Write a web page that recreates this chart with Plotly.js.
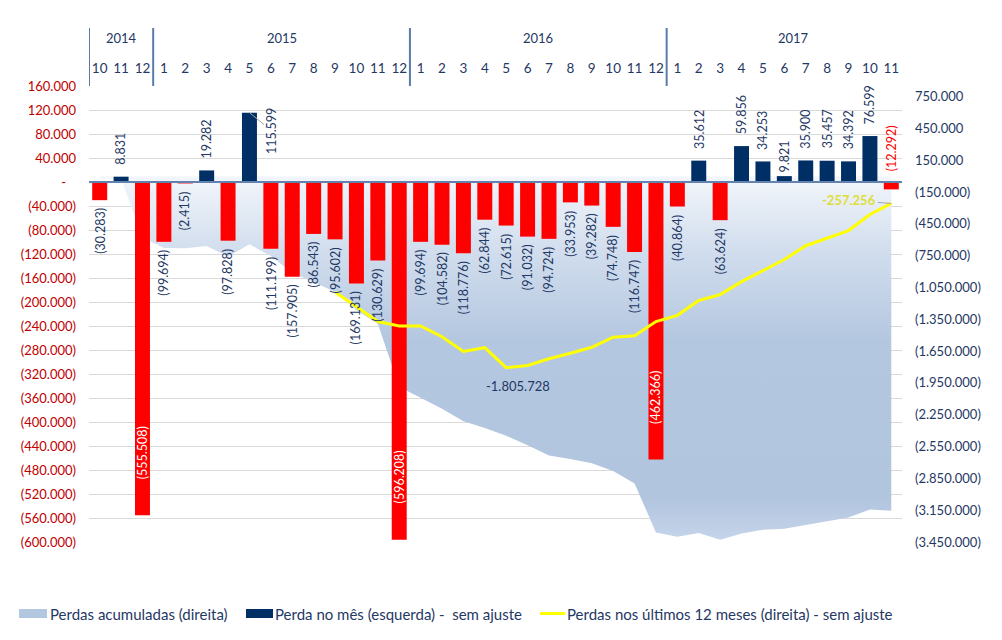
<!DOCTYPE html>
<html>
<head>
<meta charset="utf-8">
<script src="https://cdn.plot.ly/plotly-3.0.1.min.js"></script>
<style>
  html, body { margin: 0; padding: 0; background: #ffffff; }
  #chart { width: 1002px; height: 640px; }
</style>
</head>
<body>
<div id="chart"></div>
<script>
// ---------------- DATA ----------------
const monthLabels = ['10','11','12',
  '1','2','3','4','5','6','7','8','9','10','11','12',
  '1','2','3','4','5','6','7','8','9','10','11','12',
  '1','2','3','4','5','6','7','8','9','10','11'];
const yearLabels = ['2014', '2015', '2016', '2017'];

// Perda no mês (esquerda) - sem ajuste
const monthlyLoss = [-30283, 8831, -555508,
  -99694, -2415, 19282, -97828, 115599, -111199, -157905, -86543, -95602, -169131, -130629, -596208,
  -99694, -104582, -118776, -62844, -72615, -91032, -94724, -33953, -39282, -74748, -116747, -462366,
  -40864, 35612, -63624, 59856, 34253, 9821, 35900, 35457, 34392, 76599, -12292];

// Perdas acumuladas (direita)
const cumulativeLoss = [-30283, -21452, -576960,
  -676654, -679069, -659787, -757615, -642016, -753215, -911120, -997663, -1093265, -1262396, -1393025, -1989233,
  -2088927, -2193509, -2312285, -2375129, -2447744, -2538776, -2633500, -2667453, -2706735, -2781483, -2898230, -3360596,
  -3401460, -3365848, -3429472, -3369616, -3335363, -3325542, -3289642, -3254185, -3219793, -3143194, -3155486];

// Perdas nos últimos 12 meses (direita) - sem ajuste
const rolling12Loss = [null, null, null,
  null, null, null, null, null, null, null, null, -1093265, -1232113, -1371573, -1412273,
  -1412273, -1514440, -1652498, -1617514, -1805728, -1785561, -1722380, -1669790, -1613470, -1519087, -1505205, -1371363,
  -1312533, -1172339, -1117187, -994487, -887619, -786766, -656142, -586732, -513058, -361711, -257256];

const seriesNames = ['Perdas acumuladas (direita)',
  'Perda no mês (esquerda) -  sem ajuste',
  'Perdas nos últimos 12 meses (direita) - sem ajuste'];

const leftTicks = [160000, 120000, 80000, 40000, 0, -40000, -80000, -120000, -160000, -200000,
  -240000, -280000, -320000, -360000, -400000, -440000, -480000, -520000, -560000, -600000];
const rightTicks = [750000, 450000, 150000, -150000, -450000, -750000, -1050000, -1350000,
  -1650000, -1950000, -2250000, -2550000, -2850000, -3150000, -3450000];

// ---------------- HELPERS ----------------
function thousands(v) {
  return Math.abs(v).toString().replace(/\B(?=(\d{3})+(?!\d))/g, '.');
}
function acct(v) {
  if (v === 0) return '-\u00a0\u00a0\u00a0';
  return v < 0 ? '(' + thousands(v) + ')' : thousands(v);
}
function signed(v) { return (v < 0 ? '-' : '') + thousands(v); }

const W = 1002, H = 640;
const M = { l: 89, r: 100, t: 86, b: 98 };
const PW = W - M.l - M.r, PH = H - M.t - M.b;
const px = p => (p - M.l) / PW;          // page pixel x -> paper
const py = p => (H - M.b - p) / PH;      // page pixel y -> paper

const idx = monthLabels.map((_, i) => i);
const NAVY = '#1f3864';
const BAR_NAVY = '#002f66';
const RED = '#ff0000';
const AREA_BLUE = '#b4c7e0';
const YELLOW = '#ffff00';
const FONT = 'Lato, Carlito, Calibri, sans-serif';

// ---------------- TRACES ----------------
const areaTrace = {
  type: 'scatter', mode: 'none', x: idx, y: cumulativeLoss, yaxis: 'y', xaxis: 'x',
  fill: 'tozeroy', fillcolor: AREA_BLUE,
  fillgradient: {
    type: 'vertical', start: -3450000, stop: 0,
    colorscale: [[0, '#c6d5ea'], [0.12, '#b2c5df'], [0.55, '#b4c7e0'], [0.8, '#d2deee'], [1, '#f3f6fb']]
  },
  name: seriesNames[0], hoverinfo: 'skip'
};

const posBars = {
  type: 'bar', x: idx, y: monthlyLoss.map(v => v > 0 ? v : null), yaxis: 'y2', xaxis: 'x',
  marker: { color: BAR_NAVY }, width: 0.7, name: seriesNames[1], hoverinfo: 'skip'
};
const negBars = {
  type: 'bar', x: idx, y: monthlyLoss.map(v => v < 0 ? v : null), yaxis: 'y2', xaxis: 'x',
  marker: { color: RED }, width: 0.7, name: seriesNames[1], hoverinfo: 'skip'
};

const lineTrace = {
  type: 'scatter', mode: 'lines', x: idx, y: rolling12Loss, yaxis: 'y3', xaxis: 'x',
  line: { color: YELLOW, width: 3 }, connectgaps: false,
  name: seriesNames[2], hoverinfo: 'skip'
};

// ---------------- ANNOTATIONS ----------------
const annotations = [];
monthlyLoss.forEach((v, i) => {
  const base = { x: i, xref: 'x', yref: 'y2', textangle: -90, showarrow: false,
    borderpad: 0, borderwidth: 0, font: { family: FONT, size: 12.5, color: NAVY }, text: acct(v) };
  if (i === monthLabels.length - 1 && v < 0 && v > -40000) {
    annotations.push(Object.assign(base, { y: 0, yanchor: 'bottom', yshift: 11, font: { family: FONT, size: 12.5, color: RED } }));
  } else if (v < -400000) {
    annotations.push(Object.assign(base, { y: v, yanchor: 'bottom', yshift: 36, font: { family: FONT, size: 12.5, color: '#ffffff' } }));
  } else if (v < 0) {
    annotations.push(Object.assign(base, { y: v, yanchor: 'top', yshift: -8 }));
  } else if (v > 100000) {
    annotations.push(Object.assign(base, { y: v, showarrow: true, ax: 22, ay: 18, arrowhead: 0,
      arrowcolor: '#a6a6a6', arrowwidth: 1, standoff: 0 }));
  } else {
    annotations.push(Object.assign(base, { y: v, yanchor: 'bottom', yshift: v < 15000 && i > 20 ? 4 : 12 }));
  }
});

// yellow line labels
const minIdx = rolling12Loss.indexOf(Math.min(...rolling12Loss.filter(v => v !== null)));
annotations.push({ x: minIdx, y: rolling12Loss[minIdx], xref: 'x', yref: 'y3', showarrow: false,
  text: signed(rolling12Loss[minIdx]), xshift: 12, yshift: -18,
  font: { family: FONT, size: 13, color: NAVY } });
const lastIdx = rolling12Loss.length - 1;
annotations.push({ x: lastIdx, y: rolling12Loss[lastIdx], xref: 'x', yref: 'y3', showarrow: true,
  ax: -42, ay: -3, arrowhead: 0, arrowcolor: '#a6a6a6', arrowwidth: 1, standoff: 0,
  text: '<b>' + signed(rolling12Loss[lastIdx]) + '</b>',
  font: { family: FONT, size: 13, color: '#dede3a' } });

// year labels in header
const yearCenters = [1, 8.5, 20.5, 32.45];
yearLabels.forEach((y, k) => {
  annotations.push({ x: yearCenters[k], xref: 'x', y: py(38), yref: 'paper', yanchor: 'middle',
    showarrow: false, text: y, font: { family: FONT, size: 13, color: NAVY } });
});

// ---------------- SHAPES ----------------
const shapes = [];
[-0.5, 2.5, 14.5, 26.5].forEach(xb => {
  shapes.push({ type: 'line', xref: 'x', yref: 'paper', x0: xb, x1: xb, y0: 1.0, y1: py(28),
    line: { color: '#5b7bab', width: 2 } });
});
shapes.push({ type: 'line', xref: 'paper', yref: 'y2', x0: 0, x1: 1, y0: 0, y1: 0,
  line: { color: '#6283b0', width: 2 }, layer: 'above' });

// ---------------- LEGEND (drawn at the bottom) ----------------
const legendY = 613.5;
const legendItems = [
  { kind: 'rect', color: AREA_BLUE, sx0: 19, sx1: 47, tx: 48 },
  { kind: 'rect', color: BAR_NAVY, sx0: 246, sx1: 273, tx: 273 },
  { kind: 'line', color: YELLOW, sx0: 540, sx1: 565, tx: 565 }
];
legendItems.forEach((it, k) => {
  if (it.kind === 'rect') {
    shapes.push({ type: 'rect', xref: 'paper', yref: 'paper', x0: px(it.sx0), x1: px(it.sx1),
      y0: py(legendY - 4.5), y1: py(legendY + 4.5), line: { width: 0 }, fillcolor: it.color });
  } else {
    shapes.push({ type: 'line', xref: 'paper', yref: 'paper', x0: px(it.sx0), x1: px(it.sx1),
      y0: py(legendY), y1: py(legendY), line: { color: it.color, width: 3 } });
  }
  annotations.push({ xref: 'paper', yref: 'paper', x: px(it.tx + 1), y: py(legendY), xanchor: 'left',
    yanchor: 'middle', showarrow: false, borderpad: 0, text: seriesNames[k],
    font: { family: FONT, size: 15, color: NAVY } });
});

// ---------------- LAYOUT ----------------
const layout = {
  width: W, height: H,
  margin: M,
  paper_bgcolor: '#ffffff', plot_bgcolor: 'rgba(0,0,0,0)',
  font: { family: FONT, size: 13, color: NAVY },
  barmode: 'overlay',
  showlegend: false,
  xaxis: { side: 'top', range: [-0.5, 37.5], tickmode: 'array', tickvals: idx, ticktext: monthLabels,
    showgrid: false, zeroline: false, showline: false, ticks: '', ticklabelstandoff: 9,
    tickfont: { family: FONT, size: 13.5, color: NAVY }, fixedrange: true },
  yaxis: { side: 'right', range: [-3450000, 850000], tickmode: 'array', tickvals: rightTicks,
    ticktext: rightTicks.map(acct), showgrid: false, zeroline: false, showline: false, ticks: '',
    ticklabelstandoff: 12, tickfont: { family: FONT, size: 13, color: NAVY } },
  yaxis2: { overlaying: 'y', side: 'left', range: [-600000, 160000], tickmode: 'array', tickvals: leftTicks,
    ticktext: leftTicks.map(acct), showgrid: true, gridcolor: '#d9d9d9', gridwidth: 1, zeroline: false,
    showline: false, ticks: '', ticklabelstandoff: 12, tickfont: { family: FONT, size: 13, color: '#c00000' } },
  yaxis3: { overlaying: 'y', range: [-3450000, 850000], visible: false },
  annotations: annotations,
  shapes: shapes
};

Plotly.newPlot('chart', [areaTrace, posBars, negBars, lineTrace], layout, { displayModeBar: false, staticPlot: true });
</script>
</body>
</html>
